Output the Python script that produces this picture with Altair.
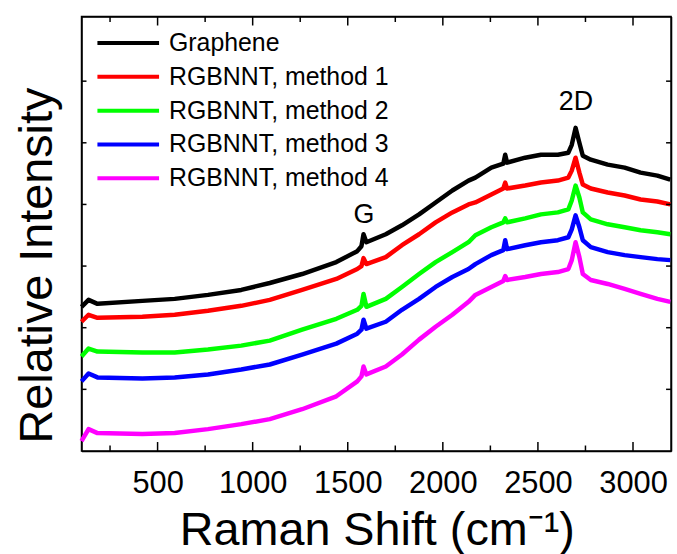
import altair as alt
import pandas as pd

# Raman shift positions (cm^-1), shared by all series
shift = [100, 137, 184, 420, 590, 765, 940, 1090, 1260, 1440, 1550, 1572, 1583, 1598,
         1700, 1785, 1875, 1962, 2050, 2135, 2171, 2255, 2318, 2328, 2338, 2433, 2516,
         2605, 2660, 2678, 2698, 2718, 2736, 2778, 2867, 2956, 3040, 3128, 3196]

# Relative intensities (arbitrary units, offset stacked)
px_graphene = [305, 298, 302, 299, 297, 293, 288, 281, 272, 260, 249, 244, 232, 240,
               232, 223, 212, 200, 188, 178, 175, 165, 161, 152, 160, 155, 152,
               152, 150, 142, 125, 140, 153, 157, 162, 165, 170, 173, 177]
px_m1 = [320, 313, 316, 315, 313, 309, 304, 298, 288, 277, 267, 264, 256, 262,
         255, 243, 232, 220, 210, 202, 200, 192, 186, 180, 186, 183, 180,
         178, 175, 168, 155, 170, 182, 186, 190, 193, 197, 199, 202]
px_m2 = [355, 347, 350, 351, 351, 348, 344, 339, 328, 317, 308, 304, 292, 305,
         297, 285, 272, 260, 250, 240, 233, 225, 220, 216, 220, 216, 212,
         210, 207, 198, 183, 195, 210, 217, 222, 225, 228, 230, 232]
px_m3 = [380, 372, 376, 377, 376, 373, 368, 363, 353, 342, 332, 328, 318, 327,
         320, 308, 297, 285, 275, 267, 262, 253, 248, 238, 247, 243, 240,
         238, 235, 227, 213, 225, 238, 245, 250, 253, 255, 257, 258]
px_m4 = [440, 428, 432, 433, 432, 428, 423, 418, 408, 395, 380, 375, 365, 373,
         365, 353, 338, 325, 313, 300, 293, 285, 279, 274, 278, 275, 272,
         270, 267, 258, 240, 255, 272, 278, 282, 287, 292, 297, 300]

series_names = ["Graphene", "RGBNNT, method 1", "RGBNNT, method 2",
                "RGBNNT, method 3", "RGBNNT, method 4"]
series_colors = ["#000000", "#ff0000", "#00ff00", "#0000ff", "#ff00ff"]

x_major = [500, 1000, 1500, 2000, 2500, 3000]
x_minor = [250, 750, 1250, 1750, 2250, 2750]
y_ticks = [62, 124, 186, 248, 310, 372]

ann_text = ["G", "2D"]
ann_x = [1585, 2700]
ann_y = [229, 343]

TOP = 450  # reference level for intensity conversion
rows = []
for name, vals in zip(series_names, [px_graphene, px_m1, px_m2, px_m3, px_m4]):
    for s, v in zip(shift, vals):
        rows.append({"series": name, "shift": s, "intensity": TOP - v})
df = pd.DataFrame(rows)

W, H = 593, 437
FONT = "Liberation Sans"

xscale = alt.Scale(domain=[100, 3200], nice=False, zero=False)
yscale = alt.Scale(domain=[0, 437], nice=False, zero=False)

FRAME = dict(domain=True, domainColor="black", domainWidth=1.5, ticks=False, grid=False)

x_axis = alt.Axis(title="Raman Shift (cm\u207b\u00b9)", values=x_major, format="d",
                  labelFontSize=31, labelFont=FONT, labelColor="black", labelPadding=18,
                  titleFontSize=47, titleFont=FONT, titleFontWeight="normal",
                  titleColor="black", titleX=297, titleY=94, titleAlign="center",
                  titleBaseline="alphabetic", **FRAME)
y_axis = alt.Axis(title="Relative Intensity", labels=False, titleFontSize=47,
                  titleFont=FONT, titleFontWeight="normal", titleColor="black",
                  titleAngle=270, titleX=-30, titleY=250, titleAlign="center",
                  titleBaseline="alphabetic", **FRAME)
x_top = alt.Axis(orient="top", labels=False, title=None, **FRAME)
y_right = alt.Axis(orient="right", labels=False, title=None, **FRAME)

lines = alt.Chart(df).mark_line(strokeWidth=4.5, strokeJoin="round").encode(
    x=alt.X("shift:Q", scale=xscale, axis=x_axis),
    y=alt.Y("intensity:Q", scale=yscale, axis=y_axis),
    color=alt.Color("series:N", scale=alt.Scale(domain=series_names, range=series_colors),
                    legend=alt.Legend(orient="none", legendX=14, legendY=10, title=None,
                                      symbolType="stroke", symbolSize=3844,
                                      symbolStrokeWidth=4, labelFontSize=25,
                                      labelFont=FONT, labelColor="black", labelOffset=8,
                                      clipHeight=33.3, rowPadding=0, padding=0,
                                      labelLimit=400)),
    detail="series:N",
    order=alt.Order("shift:Q"),
)

major_df = pd.DataFrame({"t": x_major})
minor_df = pd.DataFrame({"t": x_minor})
ytick_df = pd.DataFrame({"v": y_ticks})

def xticks(data, y0, y1, axis=None):
    return alt.Chart(data).mark_rule(color="black", strokeWidth=1.5).encode(
        x=alt.X("t:Q", scale=xscale, axis=axis), y=alt.value(y0), y2=alt.value(y1))

def yticks(x0, x1, axis=None):
    return alt.Chart(ytick_df).mark_rule(color="black", strokeWidth=1.5).encode(
        y=alt.Y("v:Q", scale=yscale, axis=axis), x=alt.value(x0), x2=alt.value(x1))

ann_df = pd.DataFrame({"label": ann_text, "sx": ann_x, "sy": ann_y})
ann = alt.Chart(ann_df).mark_text(fontSize=27, font=FONT, color="black",
                                  baseline="alphabetic", align="center").encode(
    x=alt.X("sx:Q", scale=xscale, axis=None),
    y=alt.Y("sy:Q", scale=yscale, axis=None),
    text="label:N",
)

panel = alt.layer(
    lines,
    xticks(major_df, H, H - 9), xticks(minor_df, H, H - 5.5),
    xticks(major_df, 0, 9, axis=x_top), xticks(minor_df, 0, 5.5),
    yticks(0, 5), yticks(W, W - 5, axis=y_right),
    ann,
).resolve_axis(x="independent", y="independent").properties(width=W, height=H)

chart = alt.vconcat(panel).properties(
    background="white",
    padding={"left": 13, "top": 13, "right": 3, "bottom": 0},
).configure_view(stroke="black", strokeWidth=1.5)

chart.save("out.html", embed_options={"renderer": "svg", "actions": False})
